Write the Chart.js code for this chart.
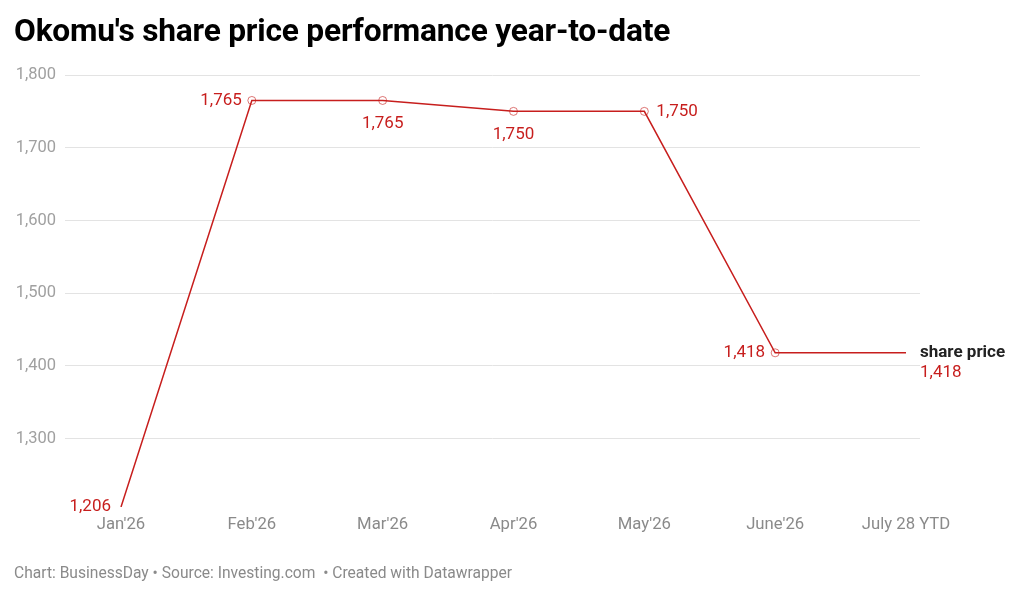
<!DOCTYPE html>
<html>
<head>
<meta charset="utf-8">
<script src="https://cdn.jsdelivr.net/npm/chart.js@4"></script>
<style>
  body { margin: 0; background: #fff; font-family: Roboto, sans-serif; }
  #wrap { position: relative; width: 1024px; height: 597px; }
  #title { position: absolute; left: 14px; top: 12px; font-size: 31.7px; font-weight: 700; color: #000; letter-spacing: -0.2px; }
  #foot { position: absolute; left: 14px; top: 564px; font-size: 15.6px; color: #8a8a8a; }
  canvas { position: absolute; left: 0; top: 0; }
</style>
</head>
<body>
<div id="wrap">
  <canvas id="myChart" width="1024" height="597"></canvas>
  <div id="title">Okomu's share price performance year-to-date</div>
  <div id="foot">Chart: BusinessDay • Source: Investing.com &nbsp;• Created with Datawrapper</div>
</div>
<script>
const months = ["Jan'26", "Feb'26", "Mar'26", "Apr'26", "May'26", "June'26", "July 28 YTD"];
const price = [1206, 1765, 1765, 1750, 1750, 1418, 1418];
const yTicks = [1300, 1400, 1500, 1600, 1700, 1800];

// where each value label sits relative to its point
const placement = ["left", "left", "below", "below", "right", "left", "end"];

const red = "#c71e1d";
const fmt = (v) => v.toLocaleString("en-US");

const valueLabels = {
  id: "valueLabels",
  afterDatasetsDraw(chart) {
    const ctx = chart.ctx;
    const pts = chart.getDatasetMeta(0).data;
    ctx.save();
    ctx.font = "17px Roboto";
    ctx.textBaseline = "middle";
    pts.forEach((p, i) => {
      const txt = fmt(price[i]);
      ctx.fillStyle = red;
      if (placement[i] === "left") {
        ctx.textAlign = "right";
        ctx.fillText(txt, p.x - 10, p.y);
      } else if (placement[i] === "right") {
        ctx.textAlign = "left";
        ctx.fillText(txt, p.x + 12, p.y);
      } else if (placement[i] === "below") {
        ctx.textAlign = "center";
        ctx.fillText(txt, p.x, p.y + 23);
      } else {
        const x = chart.chartArea.right;
        ctx.textAlign = "left";
        ctx.fillStyle = "#222";
        ctx.font = "bold 17px Roboto";
        ctx.fillText("share price", x, p.y);
        ctx.fillStyle = red;
        ctx.font = "17px Roboto";
        ctx.fillText(txt, x, p.y + 20);
      }
    });
    ctx.restore();
  }
};

new Chart(document.getElementById("myChart"), {
  type: "line",
  data: {
    datasets: [{
      label: "share price",
      data: price.map((v, i) => ({ x: i, y: v })),
      borderColor: red,
      borderWidth: 1.5,
      pointRadius: [0, 4, 4, 4, 4, 4, 0],
      pointBackgroundColor: "rgba(255,255,255,0)",
      pointBorderColor: "rgba(199,30,29,0.6)",
      pointBorderWidth: 1,
      tension: 0
    }]
  },
  options: {
    responsive: false,
    animation: false,
    layout: { padding: { top: 75, right: 104, bottom: 60, left: 0 } },
    plugins: { legend: { display: false }, tooltip: { enabled: false } },
    scales: {
      x: {
        type: "linear",
        min: -0.428,
        max: 6.107,
        afterBuildTicks: (s) => { s.ticks = months.map((_, i) => ({ value: i })); },
        afterFit: (s) => { s.height = 30; },
        grid: { display: false, drawTicks: false },
        border: { display: false },
        ticks: {
          autoSkip: false,
          maxRotation: 0,
          padding: 8,
          color: "#8a8a8a",
          font: { family: "Roboto", size: 16.7 },
          callback: (v) => months[v] ?? ""
        }
      },
      y: {
        min: 1206,
        max: 1800,
        afterBuildTicks: (s) => { s.ticks = yTicks.map((v) => ({ value: v })); },
        afterFit: (s) => { s.width = 65; },
        grid: { color: "#e3e3e3", drawTicks: false },
        border: { display: false },
        ticks: {
          padding: 9,
          color: "#a0a0a0",
          font: { family: "Roboto", size: 16.5 },
          callback: (v) => fmt(v)
        }
      }
    }
  },
  plugins: [valueLabels]
});
</script>
</body>
</html>
